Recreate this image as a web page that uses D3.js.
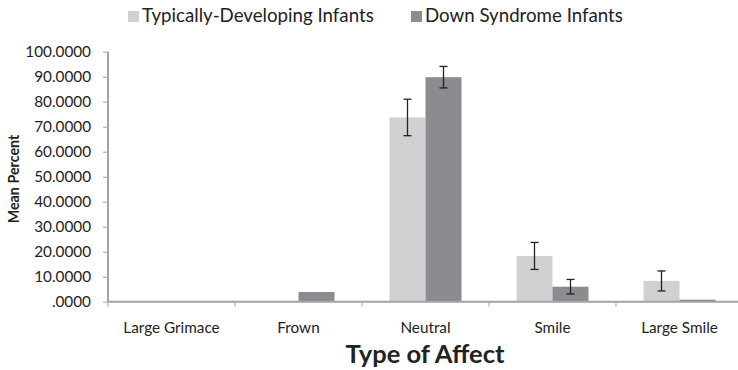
<!DOCTYPE html>
<html>
<head>
<meta charset="utf-8">
<script src="https://cdn.jsdelivr.net/npm/d3@7"></script>
<style>
body { margin: 0; background: #fff; }
text { font-family: Lato, "Open Sans", sans-serif; }
</style>
</head>
<body>
<svg width="738" height="370"></svg>
<script>
var categories = ['Large Grimace', 'Frown', 'Neutral', 'Smile', 'Large Smile']
var seriesNames = ['Typically-Developing Infants', 'Down Syndrome Infants']
var tdMeans = [0, 0, 73.7, 18.3, 8.3]
var dsMeans = [0, 3.9, 89.8, 6.0, 0.8]
var tdErrors = [0, 0, 7.3, 5.4, 4.0]
var dsErrors = [0, 0, 4.3, 2.9, 0]
var yTicks = [0, 10, 20, 30, 40, 50, 60, 70, 80, 90, 100]

var colors = ['#d0d1d3', '#8b8c8f']

var svg = d3.select('svg')

var x = d3.scaleBand().domain(categories).range([108, 743]).paddingInner(0).paddingOuter(0)
var y = d3.scaleLinear().domain([0, 100]).range([301.7, 51.7])

var table = categories.map(function(c, i) {
	return [
		{cat: c, s: 0, v: tdMeans[i], e: tdErrors[i]},
		{cat: c, s: 1, v: dsMeans[i], e: dsErrors[i]}
	]
})

var barW = 36
function barMid(d) {return x(d.cat) + x.bandwidth() / 2 - barW / 2 + d.s * barW}

// bars
var groups = svg.append('g').selectAll('g').data(table).enter().append('g')
groups.selectAll('rect').data(function(d) {return d}).enter().append('rect')
	.attr('x', function(d) {return barMid(d) - barW / 2})
	.attr('y', function(d) {return y(d.v)})
	.attr('width', barW)
	.attr('height', function(d) {return y(0) - y(d.v)})
	.attr('fill', function(d) {return colors[d.s]})

// error bars
var errs = groups.selectAll('g.err').data(function(d) {return d.filter(function(p) {return p.e > 0})})
	.enter().append('g').attr('class', 'err')
	.attr('stroke', '#222').attr('stroke-width', 1.3)
errs.append('line')
	.attr('x1', barMid).attr('x2', barMid)
	.attr('y1', function(d) {return y(d.v + d.e)})
	.attr('y2', function(d) {return y(d.v - d.e)})
errs.selectAll('line.cap').data(function(d) {return [d.v + d.e, d.v - d.e].map(function(v) {return {p: d, v: v}})})
	.enter().append('line').attr('class', 'cap')
	.attr('x1', function(d) {return barMid(d.p) - 4})
	.attr('x2', function(d) {return barMid(d.p) + 4})
	.attr('y1', function(d) {return y(d.v)})
	.attr('y2', function(d) {return y(d.v)})

// y axis
var yAxis = svg.append('g').attr('transform', 'translate(108,0)')
	.call(d3.axisLeft(y).tickValues(yTicks).tickSize(5).tickPadding(12)
		.tickFormat(function(d) {return d === 0 ? '.0000' : d3.format('.4f')(d)}))
yAxis.selectAll('line, path').attr('stroke', '#a3a3a3')
yAxis.select('path').attr('stroke-width', 2).attr('d', 'M0,' + y(100) + 'V' + y(0))
yAxis.selectAll('text').attr('font-size', 15.3).attr('fill', '#222')
	.style('font-family', 'Lato, sans-serif')

// x axis
var xAxis = svg.append('g').attr('transform', 'translate(0,' + y(0) + ')')
xAxis.append('line').attr('x1', 108).attr('x2', 743).attr('stroke', '#a3a3a3').attr('stroke-width', 2)
xAxis.selectAll('line.tick').data(categories).enter().append('line').attr('class', 'tick')
	.attr('x1', function(d) {return x(d)}).attr('x2', function(d) {return x(d)})
	.attr('y1', 0).attr('y2', 5).attr('stroke', '#a3a3a3')
xAxis.selectAll('text').data(categories).enter().append('text')
	.attr('x', function(d) {return x(d) + x.bandwidth() / 2})
	.attr('y', 31)
	.attr('text-anchor', 'middle')
	.attr('font-size', 15.3).attr('fill', '#222')
	.text(function(d) {return d})

// titles
svg.append('text').attr('x', 425).attr('y', 363).attr('text-anchor', 'middle')
	.attr('font-size', 25.5).attr('font-weight', 'bold').attr('fill', '#222')
	.text('Type of Affect')
svg.append('text').attr('transform', 'translate(19,179) rotate(-90)').attr('text-anchor', 'middle')
	.attr('font-size', 14.3).attr('font-weight', 'bold').attr('fill', '#222')
	.text('Mean Percent')

// legend
var legendX = [128, 411]
var legend = svg.append('g').selectAll('g').data(seriesNames).enter().append('g')
	.attr('transform', function(d, i) {return 'translate(' + legendX[i] + ',11)'})
legend.append('rect').attr('width', 11).attr('height', 11).attr('fill', function(d, i) {return colors[i]})
legend.append('text').attr('x', 14).attr('y', 10.5).attr('font-size', 18.7).attr('fill', '#222')
	.text(function(d) {return d})
</script>
</body>
</html>
